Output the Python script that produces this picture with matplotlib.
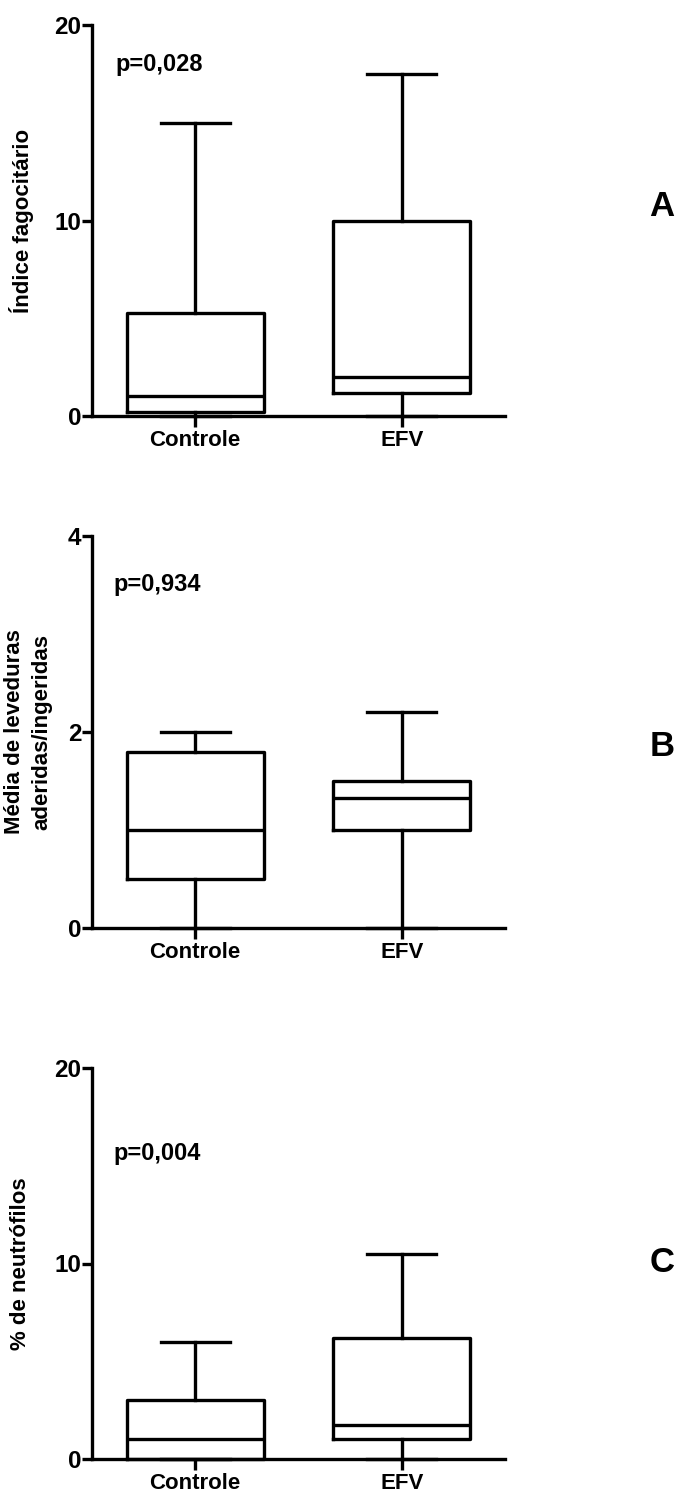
import matplotlib
matplotlib.use("Agg")
import matplotlib.pyplot as plt

plt.rcParams["font.family"] = ["Liberation Sans", "DejaVu Sans"]
plt.rcParams["font.weight"] = "bold"

groups = ["Controle", "EFV"]

# box stats (whisker low, Q1, median, Q3, whisker high)
fago_low = [0.0, 0.0]
fago_q1 = [0.2, 1.2]
fago_med = [1.0, 2.0]
fago_q3 = [5.25, 10.0]
fago_high = [15.0, 17.5]

lev_low = [0.0, 0.0]
lev_q1 = [0.5, 1.0]
lev_med = [1.0, 1.33]
lev_q3 = [1.8, 1.5]
lev_high = [2.0, 2.2]

neut_low = [0.0, 0.0]
neut_q1 = [0.0, 1.0]
neut_med = [1.0, 1.75]
neut_q3 = [3.0, 6.2]
neut_high = [6.0, 10.5]

p_values = ["p=0,028", "p=0,934", "p=0,004"]
ylabels = ["Índice fagocitário", "Média de leveduras\naderidas/ingeridas", "% de neutrófilos"]
letters = ["A", "B", "C"]
ymax = [20, 4, 20]
yticks = [[0, 10, 20], [0, 2, 4], [0, 10, 20]]

series = [
    (fago_low, fago_q1, fago_med, fago_q3, fago_high),
    (lev_low, lev_q1, lev_med, lev_q3, lev_high),
    (neut_low, neut_q1, neut_med, neut_q3, neut_high),
]

W, H = 677, 1492
fig = plt.figure(figsize=(W / 100, H / 100), dpi=100)

# layout in pixels: (axis top, axis bottom), label x, p text pos, letter y
ax_px = [(25, 416), (536, 928), (1068, 1459)]
ylab_x = [-0.17, -0.155, -0.172]
p_pos = [(0.058, 0.90), (0.051, 0.877), (0.051, 0.782)]
letter_y = [206, 747, 1263]
LW = 2.4

for k in range(3):
    top, bot = ax_px[k]
    ax = fig.add_axes([92 / W, 1 - bot / H, 413 / W, (bot - top) / H])
    lo, q1, med, q3, hi = series[k]
    stats = [dict(whislo=lo[i], q1=q1[i], med=med[i], q3=q3[i], whishi=hi[i], fliers=[])
             for i in range(len(groups))]
    lp = dict(color="black", lw=LW, solid_capstyle="projecting")
    ax.bxp(stats, positions=[1, 2], widths=0.665, showfliers=False,
           boxprops=dict(color="black", lw=LW),
           medianprops=dict(color="black", lw=LW),
           whiskerprops=lp, capprops=lp)
    ax.set_xlim(0.5, 2.5)
    ax.set_ylim(0, ymax[k])
    ax.set_yticks(yticks[k])
    ax.set_xticks([1, 2])
    ax.set_xticklabels(groups, fontsize=16, fontweight="bold")
    for t in ax.get_yticklabels():
        t.set_fontsize(17.5)
        t.set_fontweight("bold")
    ax.spines["top"].set_visible(False)
    ax.spines["right"].set_visible(False)
    for s in ("left", "bottom"):
        ax.spines[s].set_linewidth(LW)
    ax.tick_params(axis="y", length=7, width=LW, pad=0.5)
    ax.tick_params(axis="x", length=8, width=LW, pad=2)
    ax.set_ylabel(ylabels[k], fontsize=16, fontweight="bold", va="center",
                  linespacing=1.4)
    ax.yaxis.set_label_coords(ylab_x[k], 0.5)
    ax.text(p_pos[k][0], p_pos[k][1], p_values[k], transform=ax.transAxes,
            fontsize=17, fontweight="bold", ha="left", va="center")
    for line in ax.lines:
        line.set_clip_on(False)
    fig.text(662 / W, 1 - letter_y[k] / H, letters[k], fontsize=25,
             fontweight="bold", ha="center", va="center")

fig.savefig("out.png", dpi=100)
